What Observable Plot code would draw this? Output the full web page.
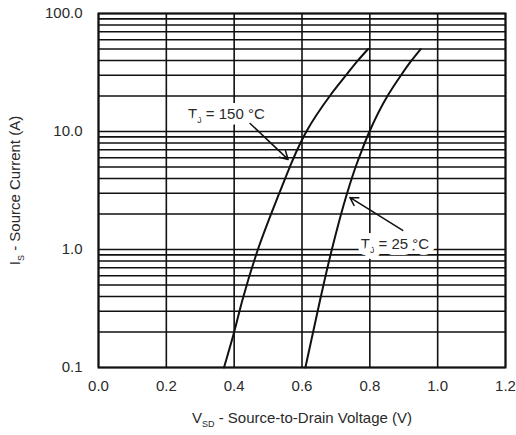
<!DOCTYPE html>
<html>
<head>
<meta charset="utf-8">
<script src="https://cdn.jsdelivr.net/npm/d3@7"></script>
<script src="https://cdn.jsdelivr.net/npm/@observablehq/plot@0.6"></script>
<style>
  html, body { margin: 0; padding: 0; background: #fff; }
  svg text.spaced { letter-spacing: 0.4px; }
</style>
</head>
<body>
<script>
// ---- data ----
const v150 = [0.37, 0.40, 0.424, 0.47, 0.533, 0.564, 0.586, 0.613, 0.682, 0.73, 0.765, 0.795];
const i150 = [0.1, 0.2, 0.37, 1.0, 3.0, 5.0, 7.0, 10, 20, 30, 40, 50];

const v25 = [0.61, 0.653, 0.688, 0.733, 0.758, 0.777, 0.799, 0.852, 0.892, 0.923, 0.95];
const i25 = [0.1, 0.37, 1.0, 3.0, 5.0, 7.0, 10, 20, 30, 40, 50];

const xTicks = [0, 0.2, 0.4, 0.6, 0.8, 1.0, 1.2];
const xTickLabels = ["0.0", "0.2", "0.4", "0.6", "0.8", "1.0", "1.2"];
const yTicks = [0.1, 1, 10, 100];
const yTickLabels = ["0.1", "1.0", "10.0", "100.0"];
const yGrid = [0.1, 0.2, 0.3, 0.4, 0.5, 0.6, 0.7, 0.8, 0.9,
               1, 2, 3, 4, 5, 6, 7, 8, 9,
               10, 20, 30, 40, 50, 60, 70, 80, 90, 100];

const labelText = ["T{J} = 150 °C", "T{J} = 25 °C"];
const labelV = [0.377, 0.874];
const labelI = [13.9, 1.10];
const arrowV1 = [0.447, 0.897];
const arrowI1 = [11.7, 1.45];
const arrowV2 = [0.559, 0.741];
const arrowI2 = [5.8, 2.76];

const xTitle = "V{SD} - Source-to-Drain Voltage (V)";
const yTitle = "I{S} - Source Current (A)";

// ---- tables built from the arrays ----
const curve150 = v150.map((v, k) => ({v, i: i150[k]}));
const curve25 = v25.map((v, k) => ({v, i: i25[k]}));
const labels = labelText.map((t, k) => ({t, v: labelV[k], i: labelI[k]}));
const arrows = arrowV1.map((v, k) => ({v1: v, i1: arrowI1[k], v2: arrowV2[k], i2: arrowI2[k]}));

const ink = "#111";
const textInk = "#2a2a2a";
const fs = 15;

const chart = Plot.plot({
  width: 516,
  height: 435,
  marginLeft: 98,
  marginRight: 11,
  marginTop: 13,
  marginBottom: 68,
  style: {fontFamily: "'Liberation Sans', Arial, sans-serif", fontSize: fs + "px", background: "#fff", color: textInk},
  x: {domain: [0, 1.2]},
  y: {type: "log", domain: [0.1, 100]},
  marks: [
    Plot.gridY(yGrid, {stroke: ink, strokeOpacity: 1, strokeWidth: 1.6}),
    Plot.gridX(xTicks, {stroke: ink, strokeOpacity: 1, strokeWidth: 1.6}),
    Plot.frame({stroke: ink, strokeWidth: 2}),
    Plot.axisX(xTicks, {tickSize: 0, tickPadding: 13, tickFormat: d => xTickLabels[xTicks.indexOf(d)], label: null, fill: textInk, fontSize: fs}),
    Plot.axisY(yTicks, {tickSize: 0, tickPadding: 16, tickFormat: d => yTickLabels[yTicks.indexOf(d)], label: null, fill: textInk, fontSize: fs}),
    Plot.line(curve150, {x: "v", y: "i", stroke: ink, strokeWidth: 2, curve: "monotone-y"}),
    Plot.line(curve25, {x: "v", y: "i", stroke: ink, strokeWidth: 2, curve: "monotone-y"}),
    Plot.text(labels, {x: "v", y: "i", text: "t", fill: textInk, stroke: "white", strokeWidth: 12, strokeLinejoin: "round", fontSize: fs, className: "spaced"}),
    Plot.arrow(arrows, {x1: "v1", y1: "i1", x2: "v2", y2: "i2", stroke: ink, strokeWidth: 1.5, headLength: 9, bend: 0}),
    Plot.text([xTitle], {frameAnchor: "bottom", lineAnchor: "middle", textAnchor: "middle", dy: 51, fill: textInk, fontSize: fs, className: "spaced"}),
    Plot.text([yTitle], {frameAnchor: "left", lineAnchor: "middle", textAnchor: "middle", dx: -83, rotate: -90, fill: textInk, fontSize: fs, className: "spaced"})
  ]
});

// turn {..} parts into subscripts
d3.select(chart).selectAll("text").each(function () {
  const s = this.textContent;
  if (!s.includes("{")) return;
  const parts = s.split(/(\{[^}]*\})/).filter(p => p.length);
  const el = d3.select(this);
  el.text(null);
  let shifted = false;
  for (const p of parts) {
    if (p.startsWith("{")) {
      el.append("tspan").attr("dy", 4).attr("font-size", "9px").text(p.slice(1, -1));
      shifted = true;
    } else {
      const ts = el.append("tspan").text(p);
      if (shifted) { ts.attr("dy", -4); shifted = false; }
    }
  }
});

document.body.appendChild(chart);
</script>
</body>
</html>
